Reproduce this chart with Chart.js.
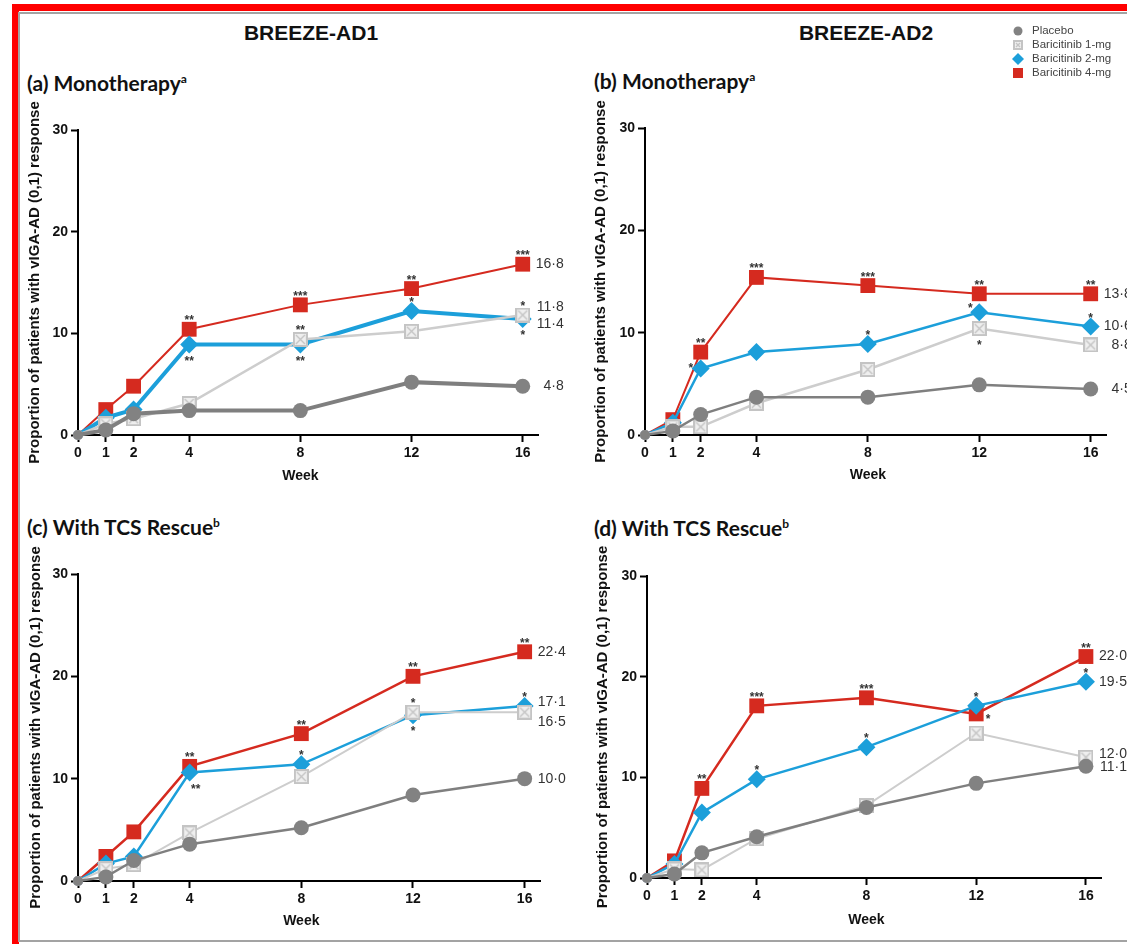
<!DOCTYPE html>
<html>
<head>
<meta charset="utf-8">
<title>BREEZE-AD1 / BREEZE-AD2 vIGA-AD (0,1) response</title>
<script src="https://cdn.jsdelivr.net/npm/chart.js@4.4.1/dist/chart.umd.min.js"></script>
<style>
  html, body { margin: 0; padding: 0; background: #fff; overflow: hidden; }
  body { width: 1127px; height: 944px; position: relative; }
  .frame { position: absolute; left: 12px; top: 4px; width: 1300px; height: 1100px; border: 7px solid #ff0000; box-sizing: border-box; }
  .inner { position: absolute; left: 18px; top: 12px; width: 1300px; height: 930px; border: 2px solid #a3a3a3; border-right: none; box-sizing: border-box; }
  .study { position: absolute; width: 300px; text-align: center; font: bold 21px "Liberation Sans", Arial, sans-serif; line-height: 24px; color: #111; }
  .panel { position: absolute; font: bold 21px Lato, "Noto Sans", sans-serif; line-height: 24px; color: #111; white-space: nowrap; }
  .panel sup { font-size: 12px; vertical-align: 8px; line-height: 0; }
  canvas { position: absolute; }
</style>
</head>
<body>
<div class="frame"></div>
<div class="inner"></div>

<div class="study" style="left:161px; top:21px;">BREEZE-AD1</div>
<div class="study" style="left:716px; top:21px;">BREEZE-AD2</div>

<div class="panel" style="left:27px; top:71px;">(a) Monotherapy<sup>a</sup></div>
<div class="panel" style="left:594px; top:69px;">(b) Monotherapy<sup>a</sup></div>
<div class="panel" style="left:27px; top:515px;">(c) With TCS Rescue<sup>b</sup></div>
<div class="panel" style="left:594px; top:516px;">(d) With TCS Rescue<sup>b</sup></div>

<canvas id="chartA" width="560" height="400" style="left:20px; top:95px;"></canvas>
<canvas id="chartB" width="542" height="400" style="left:585px; top:95px;"></canvas>
<canvas id="chartC" width="560" height="400" style="left:20px; top:540px;"></canvas>
<canvas id="chartD" width="542" height="400" style="left:585px; top:540px;"></canvas>
<canvas id="legend" width="119" height="62" style="left:1008px; top:22px;"></canvas>

<script>
const weeks = [0, 1, 2, 4, 8, 12, 16];
const seriesNames = ['Placebo', 'Baricitinib 1-mg', 'Baricitinib 2-mg', 'Baricitinib 4-mg'];

// BREEZE-AD1, monotherapy (%)
const ad1MonoPlacebo = [0, 0.5, 2.1, 2.4, 2.4, 5.2, 4.8];
const ad1Mono1mg     = [0, 1.1, 1.6, 3.1, 9.4, 10.2, 11.8];
const ad1Mono2mg     = [0, 1.7, 2.5, 8.9, 8.9, 12.2, 11.4];
const ad1Mono4mg     = [0, 2.5, 4.8, 10.4, 12.8, 14.4, 16.8];

// BREEZE-AD2, monotherapy (%)
const ad2MonoPlacebo = [0, 0.4, 2.0, 3.7, 3.7, 4.9, 4.5];
const ad2Mono1mg     = [0, 0.8, 0.8, 3.1, 6.4, 10.4, 8.8];
const ad2Mono2mg     = [0, 1.2, 6.5, 8.1, 8.9, 12.0, 10.6];
const ad2Mono4mg     = [0, 1.5, 8.1, 15.4, 14.6, 13.8, 13.8];

// BREEZE-AD1, with TCS rescue (%)
const ad1TcsPlacebo = [0, 0.4, 2.0, 3.6, 5.2, 8.4, 10.0];
const ad1Tcs1mg     = [0, 1.2, 1.6, 4.7, 10.2, 16.5, 16.5];
const ad1Tcs2mg     = [0, 1.7, 2.4, 10.6, 11.4, 16.2, 17.1];
const ad1Tcs4mg     = [0, 2.4, 4.8, 11.2, 14.4, 20.0, 22.4];

// BREEZE-AD2, with TCS rescue (%)
const ad2TcsPlacebo = [0, 0.4, 2.5, 4.1, 7.0, 9.4, 11.1];
const ad2Tcs1mg     = [0, 0.9, 0.8, 3.9, 7.2, 14.4, 12.0];
const ad2Tcs2mg     = [0, 1.4, 6.5, 9.8, 13.0, 17.1, 19.5];
const ad2Tcs4mg     = [0, 1.7, 8.9, 17.1, 17.9, 16.3, 22.0];

// significance markers: [series, week index, text, side]
const ad1MonoStars = [
  [3, 3, '**', 'up'], [3, 4, '***', 'up'], [3, 5, '**', 'up'], [3, 6, '***', 'up'],
  [2, 3, '**', 'down'], [2, 4, '**', 'down'], [2, 5, '*', 'up'], [2, 6, '*', 'down'],
  [1, 4, '**', 'up'], [1, 6, '*', 'up']
];
const ad2MonoStars = [
  [3, 2, '**', 'up'], [3, 3, '***', 'up'], [3, 4, '***', 'up'], [3, 5, '**', 'up'], [3, 6, '**', 'up'],
  [2, 2, '*', 'left'], [2, 4, '*', 'up'], [2, 5, '*', 'upleft'], [2, 6, '*', 'up'],
  [1, 5, '*', 'down']
];
const ad1TcsStars = [
  [3, 3, '**', 'up'], [3, 4, '**', 'up'], [3, 5, '**', 'up'], [3, 6, '**', 'up'],
  [2, 3, '**', 'downright'], [2, 4, '*', 'up'], [2, 5, '*', 'down'], [2, 6, '*', 'up'],
  [1, 5, '*', 'up']
];
const ad2TcsStars = [
  [3, 2, '**', 'up'], [3, 3, '***', 'up'], [3, 4, '***', 'up'], [3, 5, '*', 'right'], [3, 6, '**', 'up'],
  [2, 3, '*', 'up'], [2, 4, '*', 'up'], [2, 5, '*', 'up'], [2, 6, '*', 'up']
];

const lineColors = ['#7f7f7f', '#cdcdcd', '#1c9fda', '#d52a1f'];
const markerColors = ['#828282', '#d0d0d0', '#1c9fda', '#d52a1f'];
const TICK_FONT = '"Liberation Sans", Arial, sans-serif';

// light grey box with a cross, used for the 1-mg arm
function boxCross(size) {
  const c = document.createElement('canvas');
  c.width = c.height = size;
  const g = c.getContext('2d');
  g.fillStyle = '#efefef';
  g.fillRect(0, 0, size, size);
  g.strokeStyle = '#c4c4c4';
  g.lineWidth = 2;
  g.strokeRect(1, 1, size - 2, size - 2);
  g.lineWidth = 1.4;
  g.beginPath();
  g.moveTo(3, 3); g.lineTo(size - 3, size - 3);
  g.moveTo(size - 3, 3); g.lineTo(3, size - 3);
  g.stroke();
  return c;
}
const crossBox = boxCross(15);
const markerStyles = ['circle', crossBox, 'rectRot', 'rect'];
const markerRadius = [7.5, 7.5, 9, 10.5];

const starOffset = {
  up: [0, -5], down: [0, 20], left: [-10, 4], upleft: [-9, 0],
  downright: [6, 20], right: [12, 9]
};

const annotate = {
  id: 'annotate',
  afterDatasetsDraw(chart, args, opts) {
    const ctx = chart.ctx;
    const last = weeks.length - 1;
    ctx.save();
    ctx.fillStyle = '#333';

    // week-16 values, right aligned beside the last marker
    ctx.font = '14px ' + TICK_FONT;
    ctx.textAlign = 'right';
    ctx.textBaseline = 'middle';
    const w = ctx.measureText('00\u00b70').width;
    chart.data.datasets.forEach((ds, i) => {
      const pt = chart.getDatasetMeta(i).data[last];
      const txt = ds.data[last].y.toFixed(1).replace('.', '\u00b7');
      ctx.fillText(txt, pt.x + 13 + w, pt.y + opts.labelShift[i]);
    });

    // significance asterisks
    ctx.font = 'bold 12px ' + TICK_FONT;
    ctx.textAlign = 'center';
    ctx.textBaseline = 'alphabetic';
    opts.stars.forEach(([i, j, txt, side]) => {
      const pt = chart.getDatasetMeta(i).data[j];
      const [dx, dy] = starOffset[side];
      ctx.fillText(txt, pt.x + dx, pt.y + dy);
    });

    // x axis title, centred under weeks 0-16
    const xs = chart.scales.x;
    ctx.fillStyle = '#111';
    ctx.font = 'bold 14px ' + TICK_FONT;
    ctx.textBaseline = 'middle';
    ctx.fillText('Week', (xs.getPixelForValue(0) + xs.getPixelForValue(16)) / 2, opts.weekY);
    ctx.restore();
  }
};

function makeChart(id, series, widths, box, labelShift, stars) {
  return new Chart(document.getElementById(id), {
    type: 'line',
    data: {
      datasets: series.map((vals, i) => ({
        label: seriesNames[i],
        data: weeks.map((wk, j) => ({ x: wk, y: vals[j] })),
        borderColor: lineColors[i],
        borderWidth: widths[i],
        backgroundColor: markerColors[i],
        pointBackgroundColor: markerColors[i],
        pointBorderWidth: 0,
        pointStyle: ctx => (ctx.dataIndex === 0 ? 'circle' : markerStyles[i]),
        pointRadius: ctx => (ctx.dataIndex === 0 ? 5 : markerRadius[i]),
        tension: 0,
        clip: false
      }))
    },
    options: {
      responsive: false,
      animation: false,
      events: [],
      layout: { padding: { left: 0, top: box.top, right: box.right, bottom: 0 } },
      plugins: {
        legend: { display: false },
        tooltip: { enabled: false },
        annotate: { labelShift: labelShift, stars: stars, weekY: box.weekY }
      },
      scales: {
        x: {
          type: 'linear',
          min: 0,
          max: 16.55,
          afterBuildTicks: s => { s.ticks = weeks.map(v => ({ value: v })); },
          afterFit: s => { s.height = box.xHeight; },
          border: { color: '#000', width: 2 },
          grid: { drawOnChartArea: false, tickLength: 7, tickWidth: 2, tickColor: '#000' },
          ticks: { color: '#111', padding: 3, maxRotation: 0, autoSkip: false,
                   font: { family: TICK_FONT, size: 14, weight: 'bold' } }
        },
        y: {
          min: 0,
          max: 30,
          afterFit: s => { s.width = box.yWidth; },
          border: { color: '#000', width: 2 },
          grid: { drawOnChartArea: false, tickLength: 7, tickWidth: 2, tickColor: '#000' },
          ticks: { stepSize: 10, color: '#111', padding: 3,
                   font: { family: TICK_FONT, size: 14, weight: 'bold' } },
          title: {
            display: true,
            text: 'Proportion of patients with vIGA-AD (0,1) response',
            color: '#111',
            padding: { top: box.titlePad, bottom: 0 },
            font: { family: TICK_FONT, size: 15, weight: 'bold' }
          }
        }
      }
    },
    plugins: [annotate]
  });
}

makeChart('chartA',
  [ad1MonoPlacebo, ad1Mono1mg, ad1Mono2mg, ad1Mono4mg],
  [4, 2.5, 4, 2],
  { top: 35, right: 42, yWidth: 58, xHeight: 60, titlePad: 6, weekY: 381 },
  [0, -8, 5, 0], ad1MonoStars);

makeChart('chartB',
  [ad2MonoPlacebo, ad2Mono1mg, ad2Mono2mg, ad2Mono4mg],
  [2.5, 2.5, 2.5, 2],
  { top: 33, right: 21, yWidth: 60, xHeight: 60, titlePad: 7, weekY: 380 },
  [0, 0, 0, 0], ad2MonoStars);

makeChart('chartC',
  [ad1TcsPlacebo, ad1Tcs1mg, ad1Tcs2mg, ad1Tcs4mg],
  [2.5, 2, 2.5, 2.5],
  { top: 34, right: 40, yWidth: 58, xHeight: 59, titlePad: 7, weekY: 381 },
  [0, 10, -4, 0], ad1TcsStars);

makeChart('chartD',
  [ad2TcsPlacebo, ad2Tcs1mg, ad2Tcs2mg, ad2Tcs4mg],
  [2.5, 2, 2.5, 2.5],
  { top: 36, right: 26, yWidth: 62, xHeight: 62, titlePad: 9, weekY: 380 },
  [1, -3, 0, 0], ad2TcsStars);

// shared key, top right
(function drawKey() {
  const g = document.getElementById('legend').getContext('2d');
  const rowY = [9, 23, 37, 51];
  const mx = 10;
  rowY.forEach((y, i) => {
    g.fillStyle = markerColors[i];
    if (i === 0) {
      g.beginPath(); g.arc(mx, y, 4.5, 0, Math.PI * 2); g.fill();
    } else if (i === 1) {
      g.drawImage(boxCross(10), mx - 5, y - 5);
    } else if (i === 2) {
      g.beginPath();
      g.moveTo(mx, y - 6); g.lineTo(mx + 6, y); g.lineTo(mx, y + 6); g.lineTo(mx - 6, y);
      g.closePath(); g.fill();
    } else {
      g.fillRect(mx - 5, y - 5, 10, 10);
    }
    g.fillStyle = '#444';
    g.font = '11.5px ' + TICK_FONT;
    g.textBaseline = 'middle';
    g.fillText(seriesNames[i], 24, y);
  });
})();
</script>
</body>
</html>
